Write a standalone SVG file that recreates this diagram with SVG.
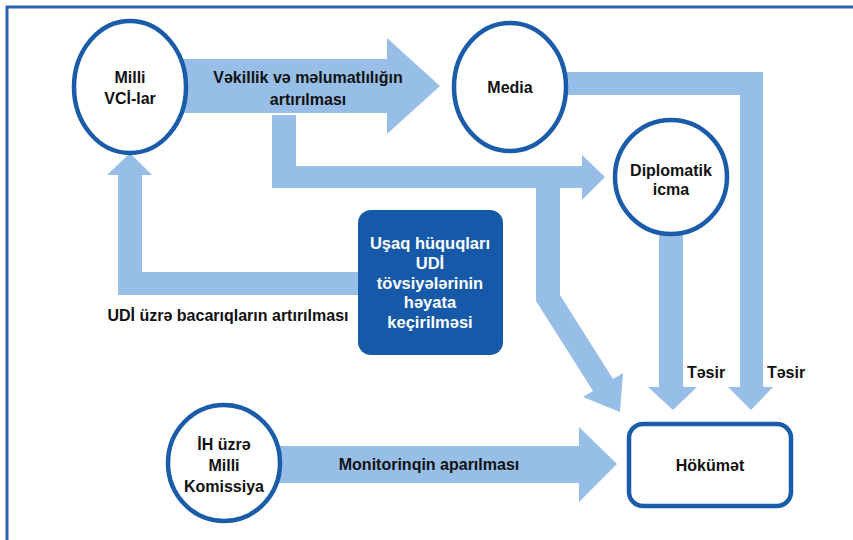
<svg xmlns="http://www.w3.org/2000/svg" width="853" height="540" viewBox="0 0 853 540">
<style>
.arr{fill:#97bee6;stroke:none}
.node{fill:#ffffff;stroke:#1a5ca9;stroke-width:4.5}
.t{font-family:"Liberation Sans",Arial,sans-serif;font-weight:bold;font-size:16px;fill:#111;text-anchor:middle}
.w{fill:#ffffff;font-size:16.5px}
</style>
<rect x="0" y="0" width="853" height="540" fill="#ffffff"/>
<path d="M7,540 V7 H853" fill="none" stroke="#2a62ae" stroke-width="3"/>
<g id="connectors">
  <polygon class="arr" points="182,59 387,59 387,38 440,86 387,134 387,113 182,113"/>
  <polygon class="arr" points="272,115 296,115 296,166 582,166 582,155 605,177 582,200 582,188 272,188"/>
  <polygon class="arr" points="536,177 560,177 560,295 613,379 623,373 620,412 583,397 593,391 536,301"/>
  <polygon class="arr" points="565,72 763,72 763,387 773,387 751,410 728,387 740,387 740,95 565,95"/>
  <polygon class="arr" points="659,230 683,230 683,387 697,387 673,410 648,387 659,387"/>
  <polygon class="arr" points="360,272 360,295 118,295 118,175 107,175 130,153 152,175 142,175 142,272"/>
  <polygon class="arr" points="279,446 579,446 579,427 617,464 579,502 579,483 279,483"/>
  <text class="t" x="308" y="83">Vəkillik və məlumatlılığın</text>
  <text class="t" x="308" y="105">artırılması</text>
  <text class="t" x="228" y="321">UDİ üzrə bacarıqların artırılması</text>
  <text class="t" x="706" y="378">Təsir</text>
  <text class="t" x="786" y="378">Təsir</text>
  <text class="t" x="429" y="470">Monitorinqin aparılması</text>
</g>
<g id="vci">
  <ellipse class="node" cx="130" cy="87" rx="56" ry="66"/>
  <text class="t" x="130" y="83">Milli</text>
  <text class="t" x="130" y="104">VCİ-lar</text>
</g>
<g id="media">
  <ellipse class="node" cx="510" cy="87" rx="56" ry="64"/>
  <text class="t" x="510" y="93">Media</text>
</g>
<g id="diplomatik">
  <ellipse class="node" cx="671" cy="177" rx="56" ry="57"/>
  <text class="t" x="671" y="176">Diplomatik</text>
  <text class="t" x="671" y="195">icma</text>
</g>
<g id="udi">
  <rect x="358" y="210" width="145" height="145" rx="13" fill="#1559a8"/>
  <text class="t w" x="430" y="249">Uşaq hüquqları</text>
  <text class="t w" x="430" y="269">UDİ</text>
  <text class="t w" x="430" y="289">tövsiyələrinin</text>
  <text class="t w" x="430" y="308">həyata</text>
  <text class="t w" x="430" y="328">keçirilməsi</text>
</g>
<g id="komissiya">
  <ellipse class="node" cx="224" cy="463" rx="56" ry="58"/>
  <text class="t" x="224" y="450">İH üzrə</text>
  <text class="t" x="224" y="471">Milli</text>
  <text class="t" x="224" y="492">Komissiya</text>
</g>
<g id="hokumet">
  <rect x="629" y="424" width="162" height="82" rx="14" class="node"/>
  <text class="t" x="710" y="471">Hökümət</text>
</g>
</svg>
